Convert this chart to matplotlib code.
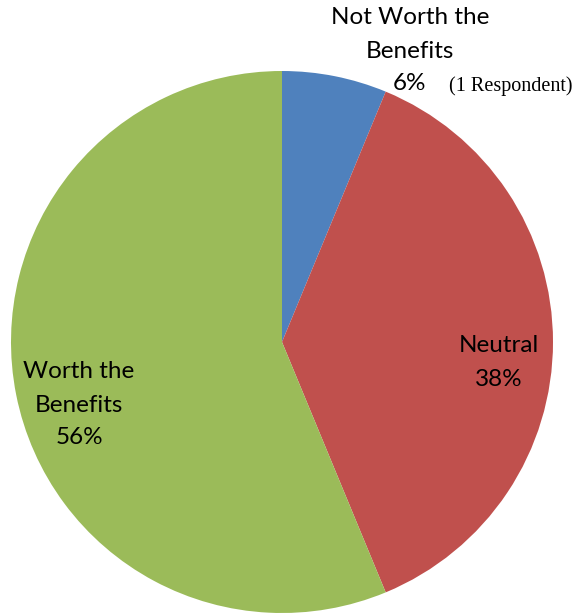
import matplotlib
matplotlib.use("Agg")
import matplotlib.pyplot as plt

categories = [["Not Worth the", "Benefits"], ["Neutral"], ["Worth the", "Benefits"]]
values = [1, 6, 9]
colors = ["#4F81BD", "#C0504D", "#9BBB59"]
note = "(1 Respondent)"

W, H = 577, 613
fig = plt.figure(figsize=(W / 100, H / 100), dpi=100)
cx, cy, r = 282, 342, 271
ax = fig.add_axes([(cx - r) / W, (H - cy - r) / H, 2 * r / W, 2 * r / H])
ax.pie(values, colors=colors, startangle=90, counterclock=False, radius=1,
       wedgeprops=dict(linewidth=0))
ax.set_xlim(-1, 1)
ax.set_ylim(-1, 1)
ax.set_aspect("equal")
ax.axis("off")

total = sum(values)
pcts = [f"{v / total * 100:.0f}%" for v in values]

font = "Lato"
fs = 17.5
step = 33
def px(x, y):
    return x / W, 1 - y / H

# (center x, center y of first line) in pixels
label_pos = [(410, 18), (499, 346), (79, 372)]
for (x, y), cat, p in zip(label_pos, categories, pcts):
    lines = cat + [p]
    for i, line in enumerate(lines):
        fig.text(*px(x, y + i * step), line, ha="center", va="center",
                 fontsize=fs, family=font, color="black")

fig.text(*px(511, 86), note, ha="center", va="center", fontsize=14.5,
         family="Liberation Serif", color="black")

fig.savefig("out.png", dpi=100)
